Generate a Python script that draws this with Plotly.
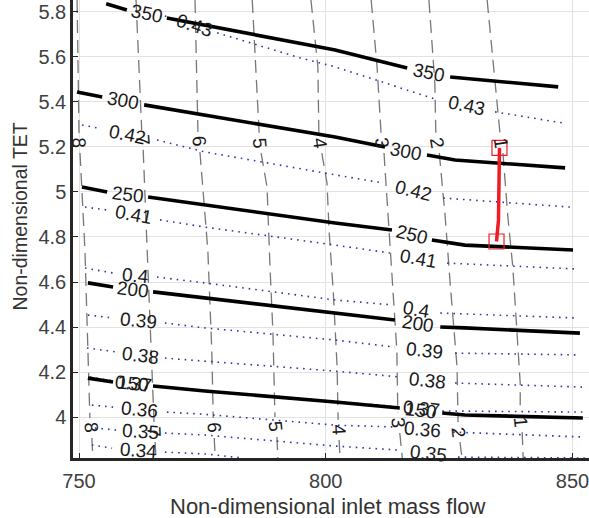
import math
import plotly.graph_objects as go

# ---------------- data ----------------
# solid black contours (levels 350..150)
t350_x = [755.5, 759.7, None, 767.8, 801.9, 816.5, None, 825.2, 847.1]
t350_y = [5.836, 5.809, None, 5.773, 5.631, 5.551, None, 5.511, 5.467]
t300_x = [749.6, 754.7, None, 763.2, 775.5, 801.9, 812.0, None, 820.5, 826.2, 848.5]
t300_y = [5.444, 5.422, None, 5.387, 5.342, 5.244, 5.200, None, 5.164, 5.142, 5.107]
t250_x = [750.6, 755.7, None, 764.0, 775.5, 801.9, 813.4, None, 821.5, 828.2, 850.1]
t250_y = [5.022, 5.000, None, 4.978, 4.942, 4.862, 4.831, None, 4.787, 4.764, 4.742]
t200_x = [751.8, 756.9, None, 765.0, 775.5, 801.9, 814.0, None, 823.2, 828.2, 851.5]
t200_y = [4.596, 4.578, None, 4.556, 4.529, 4.462, 4.431, None, 4.400, 4.396, 4.373]
t150_x = [751.8, 756.9, None, 765.0, 775.5, 801.9, 815.0, None, 823.6, 828.2, 852.1]
t150_y = [4.173, 4.156, None, 4.138, 4.116, 4.067, 4.040, None, 4.018, 4.009, 3.996]
thrust_labels = ["350", "300", "250", "200", "150"]

# blue dotted contours (levels 0.43..0.34)
e043_x = [767.4, 768.9, None, 778.0, 794.8, 801.9, 822.7, None, 834.3, 847.9]
e043_y = [5.782, 5.773, None, 5.707, 5.596, 5.556, 5.409, None, 5.356, 5.307]
e042_x = [750.6, 753.85, None, 765.8, 775.5, 801.9, 811.6, None, 823.8, 849.5]
e042_y = [5.298, 5.284, None, 5.231, 5.178, 5.076, 5.040, None, 4.973, 4.933]
e041_x = [751.2, 755.7, None, 766.4, 775.5, 801.9, 813.0, None, 824.6, 850.5]
e041_y = [4.933, 4.920, None, 4.876, 4.844, 4.764, 4.729, None, 4.684, 4.658]
e040_x = [751.2, 756.9, None, 765.8, 775.5, 801.9, 813.6, None, 823.2, 850.9]
e040_y = [4.662, 4.640, None, 4.622, 4.596, 4.520, 4.498, None, 4.462, 4.440]
e039_x = [751.8, 756.9, None, 767.4, 775.5, 801.9, 814.0, None, 826.2, 851.5]
e039_y = [4.453, 4.440, None, 4.418, 4.396, 4.342, 4.311, None, 4.284, 4.276]
e038_x = [751.6, 757.7, None, 767.4, 775.5, 801.9, 815.0, None, 826.2, 852.1]
e038_y = [4.307, 4.289, None, 4.262, 4.249, 4.204, 4.178, None, 4.151, 4.133]
e037_x = [752.2, 756.9, None, 765.0, 775.5, 801.9, 815.0, None, 823.6, 852.5]
e037_y = [4.178, 4.160, None, 4.140, 4.118, 4.070, 4.045, None, 4.027, 4.022]
e036_x = [752.6, 756.9, None, 767.8, 775.5, 801.9, 813.6, None, 825.8, 852.5]
e036_y = [4.053, 4.044, None, 4.022, 4.012, 3.964, 3.956, None, 3.933, 3.911]
e035_x = [753.2, 757.7, None, 767.4, 775.5, 801.9, 815.0, None, 826.8, 852.5]
e035_y = [3.951, 3.942, None, 3.929, 3.920, 3.871, 3.853, None, 3.822, 3.818]
e034_x = [752.6, 756.7, None, 767.4, 775.5, 783.2]
e034_y = [3.876, 3.862, None, 3.844, 3.836, 3.818]
eff_labels = ["0.43", "0.42", "0.41", "0.4", "0.39", "0.38", "0.37", "0.36", "0.35", "0.34"]

# grey dashed contours (levels 8..1)
d8_x = [749.6, 750.0, 750.0, None, 750.2, 751.2, 751.8, 752.2, None, 752.6, 752.8]
d8_y = [5.853, 5.409, 5.262, None, 5.173, 4.742, 4.298, 3.996, None, 3.907, 3.818]
d7_x = [761.55, 762.6, 762.7, None, 763.0, 763.8, 764.8, 765.2, None, 765.4, 765.6]
d7_y = [5.853, 5.320, 5.276, None, 5.187, 4.742, 4.222, 3.978, None, 3.889, 3.818]
d6_x = [773.5, 774.1, None, 774.5, 776.1, 776.9, 777.2, None, 777.4, 777.6]
d6_y = [5.853, 5.267, None, 5.178, 4.742, 4.298, 3.996, None, 3.907, 3.818]
d5_x = [785.1, 786.5, None, 786.9, 788.1, 788.7, 789.3, 789.7, None, 790.1, 790.3]
d5_y = [5.853, 5.262, None, 5.173, 5.022, 4.667, 4.373, 4.000, None, 3.911, 3.818]
d4_x = [797.0, 798.4, 798.6, None, 799.2, 800.25, 800.7, 801.5, 802.3, 802.5, None, 802.7, 802.9]
d4_y = [5.853, 5.556, 5.262, None, 5.173, 5.040, 4.818, 4.564, 4.222, 3.987, None, 3.898, 3.818]
d3_x = [809.2, 810.4, 811.2, None, 811.8, 812.4, 813.4, 814.4, 814.6, None, 815.0, 815.5]
d3_y = [5.853, 5.556, 5.262, None, 5.173, 4.964, 4.667, 4.298, 4.018, None, 3.929, 3.818]
d2_x = [820.9, 822.1, 822.3, None, 823.0, 824.2, 825.2, 826.6, 826.8, None, 827.2, 827.6]
d2_y = [5.853, 5.484, 5.262, None, 5.173, 4.889, 4.596, 4.222, 3.978, None, 3.889, 3.818]
d1_x = [832.7, 834.7, 835.3, None, 835.9, 836.9, 837.9, 838.8, 839.4, 839.4, None, 839.8, 840.0]
d1_y = [5.853, 5.409, 5.262, None, 5.173, 4.889, 4.667, 4.373, 4.151, 4.022, None, 3.933, 3.818]
dash_labels = ["8", "7", "6", "5", "4", "3", "2", "1"]

# red operating line
op_x = [835.2, 835.0, 834.6]
op_y = [5.196, 4.876, 4.780]

y_ticks = [4.0, 4.2, 4.4, 4.6, 4.8, 5.0, 5.2, 5.4, 5.6, 5.8]
y_ticktext = ["4", "4.2", "4.4", "4.6", "4.8", "5", "5.2", "5.4", "5.6", "5.8"]
x_ticks = [750, 800, 850]

# ---------------- layout constants ----------------
W, H = 589, 518
ML, MR, MT, MB = 73, 0, 0, 60
XR = [748.78, 853.34]
YR = [3.818, 5.853]
px_x = (W - ML - MR) / (XR[1] - XR[0])
px_y = (H - MT - MB) / (YR[1] - YR[0])

FONT = "Liberation Sans, Arial, sans-serif"

fig = go.Figure()
annotations = []


def add_contour(xs, ys, label, color, width, dash):
    fig.add_trace(go.Scatter(x=xs, y=ys, mode="lines", hoverinfo="skip",
                             line=dict(color=color, width=width, dash=dash)))
    # one label in every gap of the line
    for i, v in enumerate(xs):
        if v is None:
            x0, y0 = xs[i - 1], ys[i - 1]
            x1, y1 = xs[i + 1], ys[i + 1]
            ang = math.degrees(math.atan2((y0 - y1) * px_y, (x1 - x0) * px_x))
            annotations.append(dict(
                x=(x0 + x1) / 2, y=(y0 + y1) / 2, xref="x", yref="y",
                text=label, showarrow=False, textangle=ang,
                xanchor="center", yanchor="middle",
                font=dict(family=FONT, size=19, color="#1a1a1a")))


DASHED = "#777777"
for xs, ys, lab in zip([d8_x, d7_x, d6_x, d5_x, d4_x, d3_x, d2_x, d1_x],
                       [d8_y, d7_y, d6_y, d5_y, d4_y, d3_y, d2_y, d1_y], dash_labels):
    add_contour(xs, ys, lab, DASHED, 1.3, "13px,7px")

BLUE = "#3535a8"
for xs, ys, lab in zip([e043_x, e042_x, e041_x, e040_x, e039_x, e038_x, e037_x, e036_x, e035_x, e034_x],
                       [e043_y, e042_y, e041_y, e040_y, e039_y, e038_y, e037_y, e036_y, e035_y, e034_y],
                       eff_labels):
    add_contour(xs, ys, lab, BLUE, 1.6, "1.6px,5px")

for xs, ys, lab in zip([t350_x, t300_x, t250_x, t200_x, t150_x],
                       [t350_y, t300_y, t250_y, t200_y, t150_y], thrust_labels):
    add_contour(xs, ys, lab, "black", 3.6, "solid")

RED = "#ee1c25"
fig.add_trace(go.Scatter(x=op_x, y=op_y, mode="lines", hoverinfo="skip",
                         line=dict(color=RED, width=3.5)))
fig.add_trace(go.Scatter(x=[op_x[0], op_x[-1]], y=[op_y[0], op_y[-1]], mode="markers",
                         hoverinfo="skip",
                         marker=dict(symbol="square-open", size=15,
                                     color=RED, line=dict(color=RED, width=1.2))))

# axis titles as annotations (positioned like the reference)
annotations.append(dict(x=(327.5 - ML) / (W - ML - MR), y=(H - MB - 506) / (H - MT - MB),
                        xref="paper", yref="paper", text="Non-dimensional inlet mass flow",
                        showarrow=False, xanchor="center", yanchor="middle",
                        font=dict(family=FONT, size=22, color="#333333")))
annotations.append(dict(x=(19.5 - ML) / (W - ML - MR), y=(H - MB - 217) / (H - MT - MB),
                        xref="paper", yref="paper", text="Non-dimensional TET",
                        showarrow=False, xanchor="center", yanchor="middle", textangle=-90,
                        font=dict(family=FONT, size=19.5, color="#333333")))

fig.update_layout(
    width=W, height=H, margin=dict(l=ML, r=MR, t=MT, b=MB, pad=0),
    plot_bgcolor="white", paper_bgcolor="white", showlegend=False,
    annotations=annotations,
)
axis_common = dict(showgrid=True, gridcolor="#e2e2e2", gridwidth=1, zeroline=False,
                   showline=True, linecolor="#262626", linewidth=2.5, mirror=False,
                   ticks="inside", ticklen=5, tickwidth=1, tickcolor="#262626",
                   tickfont=dict(family=FONT, size=20, color="#404040"))
fig.update_xaxes(range=XR, tickvals=x_ticks, ticklabeloverflow="allow",
                 ticklabelstandoff=3, **axis_common)
fig.update_yaxes(range=YR, tickvals=y_ticks, ticktext=y_ticktext, **axis_common)

fig.write_html("out.html")
